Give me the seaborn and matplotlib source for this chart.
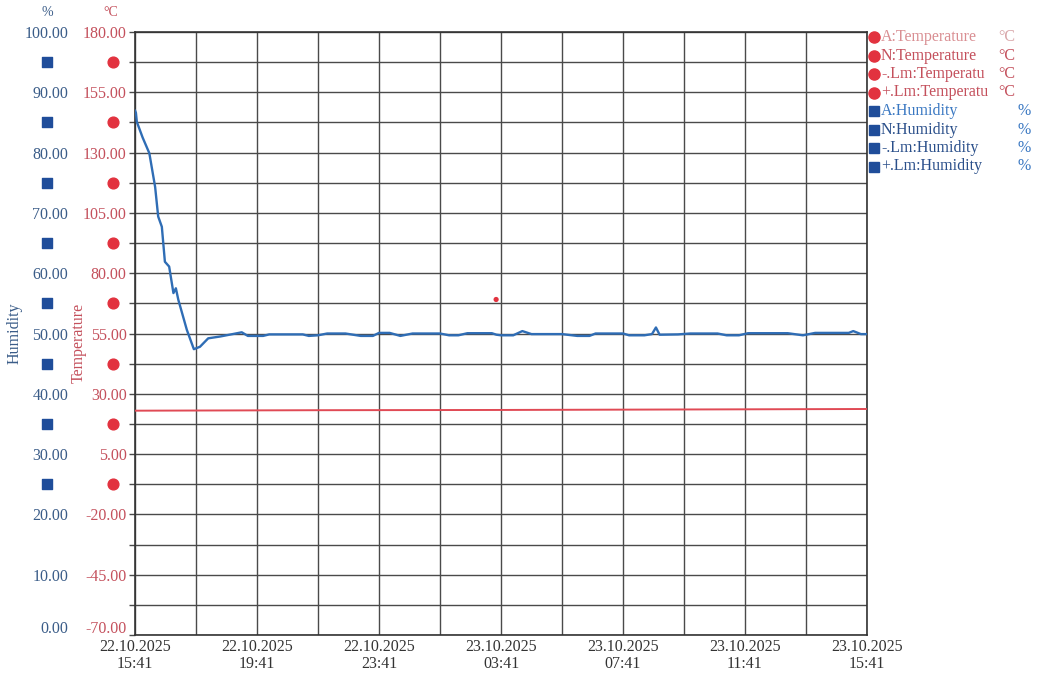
import pandas as pd
import matplotlib
matplotlib.use("Agg")
import matplotlib.pyplot as plt
import matplotlib.dates as mdates
import matplotlib.ticker as mticker
import matplotlib.transforms as mtransforms
from matplotlib.lines import Line2D
import seaborn as sns

# ---- logged data -------------------------------------------------------
start = pd.Timestamp("2025-10-22 15:41")

# relative humidity, hours since start of log
hum_hours = [0.0, 0.03, 0.06, 0.25, 0.47, 0.66, 0.76, 0.88, 0.98, 1.12, 1.26,
             1.34, 1.42, 1.70, 1.93, 2.13, 2.40, 2.79, 3.2, 3.5, 3.7, 4.2,
             4.4, 5.5, 5.7, 6.0, 6.3, 6.9, 7.4, 7.8, 8.0, 8.35, 8.7, 9.1,
             10.0, 10.3, 10.6, 10.9, 11.7, 11.85, 12.0, 12.4, 12.7, 13.0,
             14.0, 14.5, 14.9, 15.1, 16.0, 16.2, 16.7, 16.95, 17.08, 17.2,
             17.8, 18.2, 19.1, 19.4, 19.8, 20.1, 21.4, 21.9, 22.3, 23.4,
             23.55, 23.8, 24.0]
hum_values = [87.0, 86.6, 85.1, 82.5, 79.9, 74.3, 69.4, 67.7, 61.9, 61.1, 56.7,
              57.5, 55.6, 50.6, 47.4, 47.8, 49.2, 49.5, 49.9, 50.2, 49.6, 49.6,
              49.85, 49.85, 49.6, 49.7, 50.0, 50.0, 49.6, 49.6, 50.1, 50.1, 49.6,
              50.0, 50.0, 49.7, 49.7, 50.05, 50.05, 49.8, 49.7, 49.7, 50.4, 49.9,
              49.9, 49.6, 49.6, 50.0, 50.0, 49.7, 49.7, 49.9, 51.0, 49.8,
              49.85, 50.0, 50.0, 49.7, 49.7, 50.05, 50.05, 49.7, 50.1, 50.1,
              50.4, 49.9, 49.9]

# air temperature
temp_hours = [0, 6, 12, 18, 24]
temp_values = [23.0, 23.2, 23.3, 23.5, 23.7]

# single isolated temperature reading
spike_hours = [11.84]
spike_temps = [69.1]

# axis scales
temp_ticks = [-70, -45, -20, 5, 30, 55, 80, 105, 130, 155, 180]
hum_ticks = [0, 10, 20, 30, 40, 50, 60, 70, 80, 90, 100]
x_tick_hours = [0, 4, 8, 12, 16, 20, 24]

legend_names = ["A:Temperature", "N:Temperature", "-.Lm:Temperatu", "+.Lm:Temperatu",
                "A:Humidity", "N:Humidity", "-.Lm:Humidity", "+.Lm:Humidity"]
legend_units = ["°C", "°C", "°C", "°C", "%", "%", "%", "%"]

# ---- styling -----------------------------------------------------------
sns.set_style("white")
plt.rcParams["font.family"] = ["Liberation Serif", "DejaVu Serif"]

RED_LINE = "#e04a55"
BLUE_LINE = "#2f6db5"
RED_TXT = "#c4505c"
BLUE_TXT = "#3a5c88"
RED_MARK = "#e2323f"
BLUE_MARK = "#1f4d9a"
GRID = "#4a4a4a"
FS = 11.5

hum_df = pd.DataFrame({"time": start + pd.to_timedelta(hum_hours, unit="h"),
                       "humidity": hum_values})
temp_df = pd.DataFrame({"time": start + pd.to_timedelta(temp_hours, unit="h"),
                        "temperature": temp_values})
spike_df = pd.DataFrame({"time": start + pd.to_timedelta(spike_hours, unit="h"),
                         "temperature": spike_temps})

fig = plt.figure(figsize=(10.38, 6.75), dpi=100)
ax = fig.add_axes([135 / 1038, 1 - 635 / 675, 732 / 1038, 603 / 675])
ax2 = ax.twinx()

# temperature axis (inner, red labels)
sns.lineplot(data=temp_df, x="time", y="temperature", ax=ax, color=RED_LINE,
             linewidth=1.4, zorder=3)
sns.scatterplot(data=spike_df, x="time", y="temperature", ax=ax, color=RED_MARK,
                s=14, edgecolor="none", zorder=4)
ax.set_ylim(temp_ticks[0], temp_ticks[-1])
mid_levels = [(a + b) / 2 for a, b in zip(temp_ticks[:-1], temp_ticks[1:])]
ax.yaxis.set_major_locator(mticker.FixedLocator(temp_ticks))
ax.yaxis.set_minor_locator(mticker.FixedLocator(mid_levels))
ax.yaxis.set_major_formatter(mticker.FormatStrFormatter("%.2f"))
ax.tick_params(axis="y", which="both", length=4, color=GRID, width=1,
               labelsize=FS, labelcolor=RED_TXT, pad=2)
ax.set_ylabel("")

# time axis
x_ticks = [start + pd.Timedelta(hours=h) for h in x_tick_hours]
ax.set_xlim(x_ticks[0], x_ticks[-1])
ax.xaxis.set_major_locator(mticker.FixedLocator(mdates.date2num(x_ticks)))
ax.xaxis.set_minor_locator(mticker.FixedLocator(
    mdates.date2num([start + pd.Timedelta(hours=h) for h in range(2, 24, 4)])))
ax.xaxis.set_major_formatter(mdates.DateFormatter("%d.%m.%Y\n%H:%M"))
ax.tick_params(axis="x", which="both", length=0, labelsize=FS,
               labelcolor="#333333", pad=3)
for lbl in ax.get_xticklabels():
    lbl.set_linespacing(1.05)
ax.set_xlabel("")

ax.grid(True, which="both", color=GRID, linewidth=1.0)
ax.set_axisbelow(True)
for sp in ax.spines.values():
    sp.set_color("#333333")
    sp.set_linewidth(1.2)

# humidity axis (outer, blue labels, also on the left)
sns.lineplot(data=hum_df, x="time", y="humidity", ax=ax2, color=BLUE_LINE,
             linewidth=1.7, zorder=3)
ax2.set_ylim(hum_ticks[0], hum_ticks[-1])
ax2.yaxis.set_major_locator(mticker.FixedLocator(hum_ticks))
ax2.yaxis.set_major_formatter(mticker.FormatStrFormatter("%.2f"))
ax2.yaxis.tick_left()
ax2.tick_params(axis="y", length=0, labelsize=FS, labelcolor=BLUE_TXT, pad=48)
ax2.set_ylabel("")
ax2.grid(False)
for sp in ax2.spines.values():
    sp.set_visible(False)

# lift the lowest scale labels clear of the date labels
lift = mtransforms.ScaledTranslation(0, 6 / 72, fig.dpi_scale_trans)
for axis in (ax.yaxis, ax2.yaxis):
    lab = axis.get_major_ticks()[0].label1
    lab.set_transform(lab.get_transform() + lift)

# series symbols between the scale labels
sym_levels = mid_levels[2:]
blend = mtransforms.blended_transform_factory(ax.transAxes, ax.transData)
ax.scatter([(47 - 135) / 732] * len(sym_levels), sym_levels, marker="s", s=45,
           color=BLUE_MARK, transform=blend, clip_on=False, zorder=5)
ax.scatter([(113 - 135) / 732] * len(sym_levels), sym_levels, marker="o", s=60,
           color=RED_MARK, transform=blend, clip_on=False, zorder=5)

# axis titles and units
fig.text(15 / 1038, 1 - 333 / 675, "Humidity", rotation=90, color=BLUE_TXT,
         fontsize=FS, ha="center", va="center")
fig.text(79 / 1038, 1 - 343 / 675, "Temperature", rotation=90, color=RED_TXT,
         fontsize=FS, ha="center", va="center")
fig.text(47 / 1038, 1 - 12 / 675, "%", color=BLUE_TXT, fontsize=10,
         ha="center", va="center")
fig.text(111 / 1038, 1 - 12 / 675, "°C", color=RED_TXT, fontsize=10,
         ha="center", va="center")

# legend column
name_colors = ["#d98e92", RED_TXT, RED_TXT, RED_TXT,
               "#3a78c2", "#2a4f8a", "#2a4f8a", "#2a4f8a"]
unit_colors = ["#d8a5a8", RED_TXT, RED_TXT, RED_TXT,
               "#3a78c2", "#3a78c2", "#3a78c2", "#3a78c2"]
for i, (name, unit) in enumerate(zip(legend_names, legend_units)):
    yy = 1 - (37 + 18.5 * i) / 675
    is_temp = unit == "°C"
    fig.add_artist(Line2D([874 / 1038], [yy], transform=fig.transFigure,
                          marker="o" if is_temp else "s", linestyle="",
                          markersize=8 if is_temp else 6.5,
                          color=RED_MARK if is_temp else BLUE_MARK))
    fig.text(881 / 1038, yy, name, color=name_colors[i], fontsize=FS,
             ha="left", va="center")
    fig.text((998 if is_temp else 1018) / 1038, yy, unit, color=unit_colors[i],
             fontsize=FS, ha="left", va="center")

fig.savefig("out.png", dpi=100, facecolor="white")
